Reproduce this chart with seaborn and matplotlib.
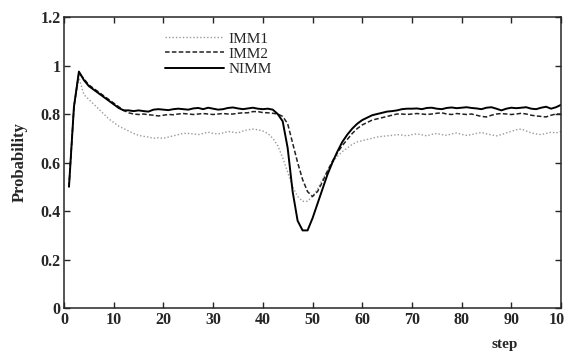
# plot.py
# Probability of correct model vs step for IMM1, IMM2 and NIMM

import pandas as pd
import matplotlib
matplotlib.use('Agg')
import matplotlib.pyplot as plt
import seaborn as sns

# Data
steps = list(range(1, 101))

imm1 = [0.50, 0.83, 0.95, 0.88, 0.86, 0.84, 0.82, 0.80, 0.78, 0.765,
        0.75, 0.74, 0.73, 0.72, 0.712, 0.708, 0.705, 0.70, 0.702, 0.70,
        0.705, 0.71, 0.715, 0.72, 0.72, 0.718, 0.715, 0.72, 0.725, 0.72,
        0.718, 0.722, 0.728, 0.725, 0.722, 0.73, 0.735, 0.738, 0.735, 0.73,
        0.72, 0.70, 0.67, 0.62, 0.56, 0.50, 0.46, 0.44, 0.44, 0.46,
        0.49, 0.53, 0.565, 0.60, 0.625, 0.645, 0.66, 0.675, 0.685, 0.69,
        0.695, 0.70, 0.705, 0.708, 0.71, 0.712, 0.715, 0.713, 0.71, 0.715,
        0.718, 0.714, 0.71, 0.716, 0.72, 0.715, 0.712, 0.718, 0.722, 0.716,
        0.712, 0.715, 0.72, 0.724, 0.718, 0.714, 0.71, 0.715, 0.722, 0.728,
        0.735, 0.738, 0.73, 0.722, 0.718, 0.715, 0.72, 0.725, 0.722, 0.728]

imm2 = [0.50, 0.83, 0.97, 0.945, 0.92, 0.905, 0.89, 0.875, 0.86, 0.845,
        0.83, 0.815, 0.805, 0.80, 0.798, 0.80, 0.797, 0.795, 0.792, 0.795,
        0.798, 0.797, 0.80, 0.802, 0.80, 0.798, 0.80, 0.802, 0.80, 0.798,
        0.80, 0.802, 0.80, 0.80, 0.803, 0.805, 0.805, 0.81, 0.81, 0.806,
        0.805, 0.803, 0.80, 0.79, 0.76, 0.68, 0.60, 0.53, 0.48, 0.46,
        0.48, 0.52, 0.565, 0.605, 0.64, 0.67, 0.695, 0.72, 0.74, 0.755,
        0.765, 0.775, 0.78, 0.785, 0.79, 0.795, 0.80, 0.80, 0.798, 0.80,
        0.802, 0.80, 0.798, 0.80, 0.803, 0.805, 0.80, 0.798, 0.802, 0.80,
        0.798, 0.80, 0.795, 0.79, 0.788, 0.795, 0.80, 0.802, 0.80, 0.798,
        0.80, 0.803, 0.80, 0.795, 0.792, 0.79, 0.788, 0.795, 0.80, 0.80]

nimm = [0.50, 0.83, 0.975, 0.94, 0.915, 0.90, 0.885, 0.87, 0.855, 0.84,
        0.825, 0.815, 0.815, 0.812, 0.815, 0.812, 0.81, 0.818, 0.82, 0.818,
        0.816, 0.82, 0.822, 0.82, 0.818, 0.823, 0.825, 0.82, 0.826, 0.822,
        0.818, 0.82, 0.825, 0.827, 0.823, 0.82, 0.823, 0.826, 0.822, 0.82,
        0.822, 0.818, 0.80, 0.77, 0.66, 0.48, 0.36, 0.32, 0.32, 0.37,
        0.43, 0.49, 0.55, 0.60, 0.645, 0.685, 0.715, 0.74, 0.76, 0.775,
        0.785, 0.795, 0.80, 0.805, 0.81, 0.812, 0.815, 0.82, 0.822, 0.822,
        0.823, 0.82, 0.825, 0.826, 0.822, 0.82, 0.825, 0.827, 0.824, 0.826,
        0.828, 0.825, 0.823, 0.82, 0.826, 0.828, 0.822, 0.815, 0.822, 0.826,
        0.824, 0.826, 0.828, 0.822, 0.82, 0.826, 0.83, 0.822, 0.828, 0.838]

series_names = ['IMM1', 'IMM2', 'NIMM']
series_colors = ['#9a9a9a', '#222222', '#000000']
series_styles = [(0, (1, 1.5)), (0, (3, 1.5)), '-']
series_widths = [1.0, 1.1, 1.4]

df = pd.DataFrame({'step': steps * 3,
                   'prob': imm1 + imm2 + nimm,
                   'model': [n for n in series_names for _ in steps]})

sns.set_style('ticks')
plt.rcParams['font.family'] = ['Liberation Serif', 'DejaVu Serif']

fig = plt.figure(figsize=(5.64, 3.51), dpi=100)
ax = fig.add_axes([0.1135, 0.1225, 0.8812, 0.829])

for name, col, ls, lw in zip(series_names, series_colors, series_styles, series_widths):
    sub = df[df['model'] == name]
    sns.lineplot(data=sub, x='step', y='prob', color=col, linestyle=ls,
                 linewidth=lw, label=name, ax=ax)

ax.set_xlim(0, 100)
ax.set_ylim(0, 1.2)
ax.set_xticks(range(0, 101, 10))
ax.set_yticks([0, 0.2, 0.4, 0.6, 0.8, 1.0, 1.2])
ax.set_yticklabels(['0', '0.2', '0.4', '0.6', '0.8', '1', '1.2'])
ax.tick_params(direction='in', top=True, right=True, length=4, width=1,
               labelsize=11.5)
ax.tick_params(axis='x', pad=3)
ax.tick_params(axis='y', pad=2.5)
for lab in ax.get_xticklabels() + ax.get_yticklabels():
    lab.set_fontweight('bold')
for sp in ax.spines.values():
    sp.set_linewidth(1.1)

ax.set_xlabel('')
ax.set_ylabel('Probability', fontsize=12, fontweight='bold', labelpad=9)
fig.text(0.894, 0.008, 'step', fontsize=11, fontweight='bold', ha='center')

ax.legend(loc='upper left', bbox_to_anchor=(0.19, 0.97), frameon=False,
          fontsize=11, handlelength=3.9, labelspacing=0.1, handletextpad=0.3,
          borderaxespad=0)

fig.savefig('out.png', dpi=100)
